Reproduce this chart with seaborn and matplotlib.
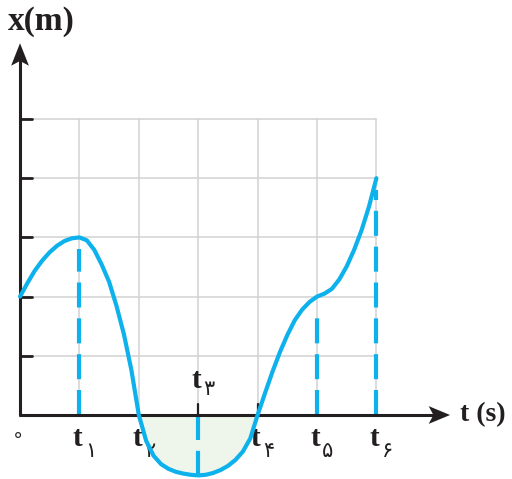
import numpy as np
import pandas as pd
import matplotlib
matplotlib.use("Agg")
import matplotlib.pyplot as plt
import seaborn as sns

# position x (m) sampled along time t (s), one grid cell per unit
t_vals = [0.0, 0.125, 0.25, 0.375, 0.5, 0.625, 0.75, 0.875,
          1.0, 1.125, 1.25, 1.375, 1.5, 1.625, 1.75, 1.875,
          2.0, 2.125, 2.25, 2.375, 2.5, 2.625, 2.75, 2.875,
          3.0, 3.125, 3.25, 3.375, 3.5, 3.625, 3.75, 3.875,
          4.0, 4.125, 4.25, 4.375, 4.5, 4.625, 4.75, 4.875,
          5.0, 5.125, 5.25, 5.375, 5.5, 5.625, 5.75, 5.875, 6.0]
x_vals = [2.00, 2.23, 2.44, 2.61, 2.75, 2.86, 2.94, 2.985,
          3.00, 2.95, 2.79, 2.54, 2.25, 1.84, 1.36, 0.76,
          0.00, -0.44, -0.69, -0.83, -0.91, -0.96, -0.99, -1.01,
          -1.02, -1.01, -0.98, -0.93, -0.86, -0.76, -0.62, -0.40,
          0.00, 0.37, 0.73, 1.06, 1.35, 1.60, 1.78, 1.91,
          2.00, 2.05, 2.13, 2.29, 2.51, 2.79, 3.12, 3.52, 4.00]

# marked instants and the labels under / above the time axis
mark_times = [1, 2, 3, 4, 5, 6]
mark_digits = ["۱", "۲", "۳", "۴", "۵", "۶"]
dashed_times = [1, 3, 5, 6]
grid_cols = [1, 2, 3, 4, 5, 6]
grid_rows = [1, 2, 3, 4, 5]

df = pd.DataFrame({"t": t_vals, "x": x_vals})

BLUE = "#0db1ec"
INK = "#231f20"
GRID = "#d2d2d2"
FILL = "#eef6ec"

sns.set_theme(style="white")
plt.rcParams["font.family"] = ["Liberation Serif", "DejaVu Sans"]

XLIM = (-0.337, 8.283)
YLIM = (-1.081, 7.010)

fig = plt.figure(figsize=(5.12, 4.79), dpi=100)
ax = fig.add_axes([0, 0, 1, 1])

# background grid
for r in grid_rows:
    ax.plot([0, grid_cols[-1]], [r, r], color=GRID, lw=1.1, zorder=1)
for c in grid_cols:
    ax.plot([c, c], [0, grid_rows[-1]], color=GRID, lw=1.1, zorder=1)

# shaded area below the time axis between t2 and t4
seg = df[(df.t >= 2) & (df.t <= 4)]
ax.fill_between(seg.t, seg.x, 0, color=FILL, lw=0, zorder=1.5)

# dashed drop lines to the time axis
lookup = dict(zip(t_vals, x_vals))
for tm in dashed_times:
    top = lookup[float(tm)]
    end = top - 0.2 if top > 0 else top
    ax.plot([tm, tm], [0, end], color=BLUE, lw=3.0, dashes=(6, 2.6),
            solid_capstyle="butt", dash_capstyle="butt", zorder=2)

# axis lines
ax.plot([0, 0], [-0.02, 6.0], color=INK, lw=2.2, zorder=3,
        solid_capstyle="butt")
ax.plot([-0.02, 7.0], [0, 0], color=INK, lw=2.2, zorder=3,
        solid_capstyle="butt")


def arrow_head(tip_x, tip_y, along_x, length, half_w, notch):
    # notched arrow head; length / widths in data units
    if along_x:
        xs = [tip_x, tip_x - length, tip_x - length + notch, tip_x - length]
        ys = [tip_y, tip_y + half_w, tip_y, tip_y - half_w]
    else:
        xs = [tip_x, tip_x - half_w, tip_x, tip_x + half_w]
        ys = [tip_y, tip_y - length, tip_y - length + notch, tip_y - length]
    ax.fill(xs, ys, color=INK, lw=0, zorder=3)


arrow_head(0, 6.28, False, 0.38, 0.15, 0.08)
arrow_head(7.24, 0, True, 0.36, 0.15, 0.08)

# value ticks on the x axis, small ticks at t3 and t4
for r in grid_rows:
    ax.plot([0, 0.21], [r, r], color=INK, lw=2.0, zorder=3)
for tm in [3, 4]:
    ax.plot([tm, tm], [0, 0.19], color=INK, lw=1.6, zorder=3)

# position curve
sns.lineplot(data=df, x="t", y="x", ax=ax, color=BLUE, lw=3.0, zorder=4,
             estimator=None, sort=False)
ax.set_xlim(*XLIM)
ax.set_ylim(*YLIM)
ax.axis("off")

# axis titles
ax.text(-0.2, 6.64, "x(m)", fontsize=24, fontweight="bold",
        family="Liberation Serif", color=INK, ha="left", va="center")
ax.text(7.41, 0.0, "t (s)", fontsize=20, fontweight="bold",
        family="Liberation Serif", color=INK, ha="left", va="center")

# origin
ax.text(-0.04, -0.34, "∘", fontsize=14, family="DejaVu Sans",
        color=INK, ha="center", va="center")

# time labels
for tm, d in zip(mark_times, mark_digits):
    if tm == 3:
        ty, dy = 0.58, 0.44
    else:
        ty, dy = -0.4, -0.6
    ax.text(tm + 0.05, ty, "t", fontsize=21, fontweight="bold",
            family="Liberation Serif", color=INK, ha="right", va="center")
    ax.text(tm + 0.09, dy, d, fontsize=15,
            family="DejaVu Sans", color=INK, ha="left", va="center")

fig.savefig("out.png", dpi=100)
